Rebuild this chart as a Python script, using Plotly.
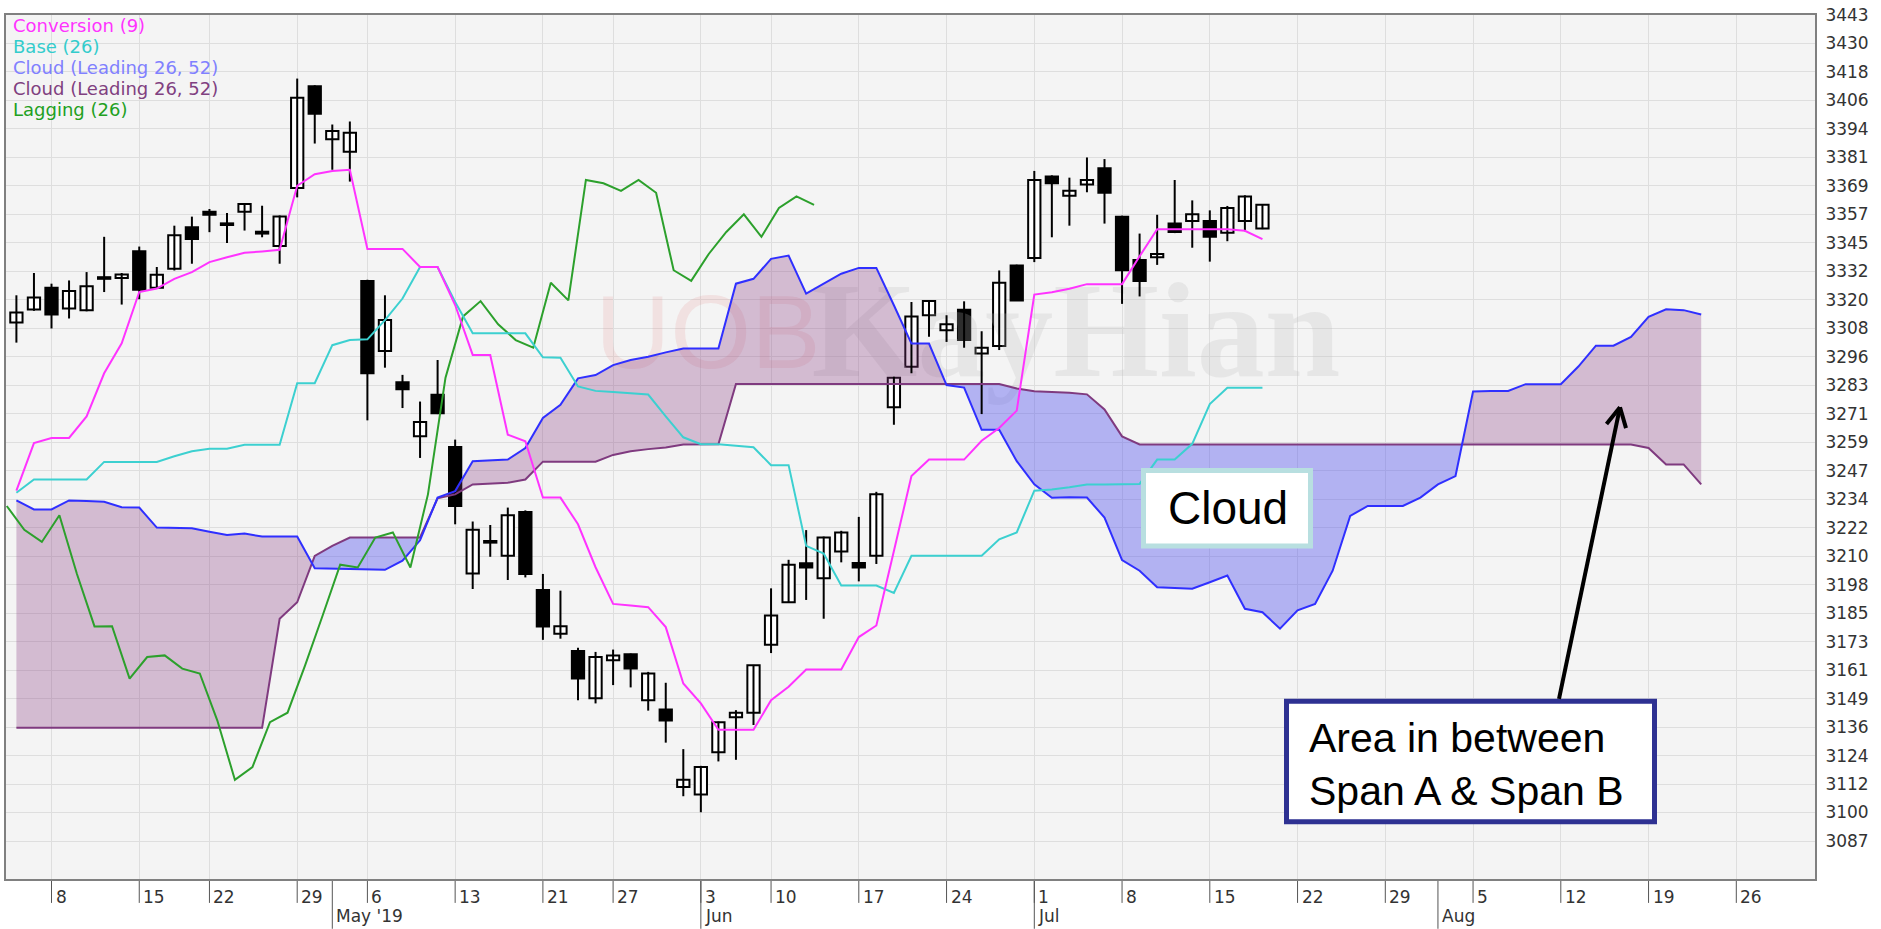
import plotly.graph_objects as go

# ---------------- data ----------------
# trading-day index 0 = 4 Apr 2019
opens = [3310.5, 3316.1, 3325.5, 3316.5, 3315.8, 3329.9, 3329.6, 3341.2, 3325.5, 3333.6,
         3351.5, 3358.2, 3353.1, 3358.2, 3349.6, 3343.4, 3368.4, 3412.3, 3389.4, 3384.1,
         3328.4, 3298.2, 3284.7, 3261.4, 3279.3, 3256.8, 3202.3, 3215.6, 3209.9, 3228.8,
         3195.2, 3176.3, 3168.9, 3148.5, 3164.9, 3167.5, 3147.7, 3143.7, 3110.3, 3107.0,
         3125.3, 3140.3, 3142.3, 3171.6, 3189.9, 3206.7, 3200.2, 3211.8, 3206.8, 3209.9,
         3273.9, 3291.4, 3313.6, 3307.1, 3316.0, 3297.1, 3300.3, 3335.0, 3338.3, 3373.4,
         3365.1, 3369.9, 3376.9, 3356.0, 3337.4, 3338.6, 3353.1, 3354.2, 3354.2, 3349.1,
         3354.2, 3351.0]
highs = [3322.2, 3331.8, 3327.2, 3328.6, 3332.2, 3347.4, 3331.8, 3343.2, 3334.4, 3352.2,
         3356.1, 3359.4, 3357.7, 3361.5, 3360.8, 3356.6, 3415.6, 3412.7, 3395.8, 3397.1,
         3328.9, 3322.2, 3287.9, 3276.4, 3294.3, 3260.0, 3224.7, 3223.2, 3230.7, 3229.5,
         3202.1, 3194.9, 3170.3, 3168.5, 3169.5, 3167.8, 3159.9, 3155.2, 3126.6, 3119.4,
         3138.5, 3143.4, 3162.9, 3195.9, 3208.2, 3221.0, 3218.2, 3220.7, 3226.7, 3237.5,
         3287.1, 3319.3, 3320.1, 3313.6, 3319.6, 3306.7, 3332.9, 3335.4, 3375.8, 3373.9,
         3372.9, 3381.6, 3380.9, 3356.5, 3348.8, 3356.9, 3371.9, 3363.1, 3358.8, 3360.7,
         3365.3, 3361.5]
lows = [3301.8, 3315.5, 3307.9, 3312.2, 3315.3, 3323.6, 3318.2, 3320.5, 3325.1, 3332.9,
        3335.8, 3349.4, 3344.7, 3350.1, 3347.2, 3335.8, 3364.4, 3387.6, 3376.3, 3371.2,
        3268.3, 3291.0, 3273.6, 3252.1, 3271.0, 3223.5, 3195.6, 3209.5, 3199.5, 3200.6,
        3173.7, 3174.2, 3147.7, 3146.3, 3154.2, 3153.2, 3143.2, 3129.4, 3106.3, 3099.4,
        3121.3, 3122.0, 3137.0, 3168.0, 3189.6, 3190.9, 3182.8, 3207.1, 3198.9, 3206.4,
        3266.4, 3288.6, 3304.3, 3302.1, 3299.6, 3271.0, 3298.6, 3320.0, 3336.5, 3347.2,
        3352.2, 3366.6, 3353.1, 3318.5, 3321.7, 3335.3, 3349.0, 3342.7, 3336.7, 3345.5,
        3349.8, 3350.7]
closes = [3314.8, 3321.2, 3313.9, 3324.1, 3326.1, 3329.3, 3331.2, 3324.6, 3331.1, 3348.1,
          3346.5, 3356.9, 3352.5, 3361.5, 3348.8, 3356.2, 3407.3, 3400.4, 3393.0, 3392.3,
          3288.6, 3311.5, 3281.7, 3267.6, 3271.4, 3231.4, 3221.1, 3216.2, 3227.4, 3202.1,
          3179.5, 3179.6, 3157.0, 3166.3, 3167.0, 3161.3, 3159.2, 3138.9, 3113.4, 3118.9,
          3138.2, 3142.3, 3162.7, 3184.2, 3206.1, 3204.9, 3217.8, 3220.0, 3204.9, 3236.4,
          3286.7, 3313.1, 3319.7, 3309.7, 3302.9, 3299.6, 3327.6, 3320.0, 3371.9, 3370.5,
          3367.2, 3371.9, 3366.4, 3333.0, 3328.4, 3340.0, 3349.5, 3357.1, 3347.4, 3359.8,
          3364.8, 3361.2]

conversion = [3238.0, 3258.5, 3260.7, 3260.7, 3270.0, 3288.6, 3301.5, 3323.6, 3325.1, 3329.3,
              3332.2, 3336.5, 3338.6, 3340.5, 3341.1, 3341.8, 3369.4, 3374.4, 3375.8, 3376.3,
              3342.2, 3342.2, 3342.2, 3334.4, 3334.4, 3318.0, 3296.5, 3296.5, 3262.1, 3259.3,
              3235.0, 3235.0, 3223.5, 3205.0, 3189.2, 3188.5, 3187.8, 3179.2, 3154.9, 3146.3,
              3134.9, 3134.9, 3134.9, 3147.7, 3153.5, 3160.9, 3160.9, 3160.9, 3174.9, 3179.9,
              3212.0, 3244.3, 3251.4, 3251.4, 3251.4, 3259.5, 3265.0, 3272.5, 3322.5, 3323.5,
              3325.0, 3327.0, 3327.0, 3327.0, 3339.0, 3350.7, 3350.7, 3350.7, 3350.7, 3350.7,
              3350.0, 3346.4]
base_line = [3237.1, 3242.8, 3242.8, 3242.8, 3242.8, 3250.4, 3250.4, 3250.4, 3250.4, 3252.8,
             3255.0, 3256.1, 3256.1, 3257.8, 3257.8, 3257.8, 3284.3, 3284.3, 3300.7, 3302.9,
             3303.2, 3311.5, 3320.8, 3334.4, 3334.4, 3319.3, 3305.8, 3305.8, 3305.8, 3305.8,
             3295.5, 3295.3, 3282.9, 3281.0, 3280.5, 3280.0, 3279.4, 3270.0, 3261.0, 3258.0,
             3258.0, 3257.4, 3256.7, 3249.0, 3249.0, 3214.2, 3210.9, 3197.1, 3197.1, 3197.1,
             3193.9, 3209.9, 3209.9, 3209.9, 3209.9, 3209.9, 3217.0, 3220.0, 3238.0, 3238.5,
             3239.5, 3240.7, 3240.7, 3240.7, 3240.9, 3251.4, 3251.4, 3258.2, 3275.3, 3282.3,
             3282.3, 3282.3]
span_a = [3233.8, 3229.9, 3229.9, 3233.8, 3233.5, 3233.2, 3230.9, 3230.7, 3222.1, 3222.0,
          3221.8, 3220.3, 3218.9, 3219.5, 3218.2, 3218.2, 3218.2, 3204.6, 3204.4, 3204.3,
          3204.1, 3203.9, 3207.8, 3216.6, 3235.0, 3237.8, 3250.7, 3251.0, 3251.4, 3256.4,
          3269.3, 3275.0, 3286.4, 3287.8, 3292.1, 3294.3, 3295.7, 3297.6, 3299.3, 3299.3,
          3299.3, 3327.2, 3329.3, 3337.9, 3339.3, 3322.9, 3327.2, 3331.5, 3334.0, 3334.0,
          3317.9, 3301.4, 3301.4, 3283.5, 3282.4, 3264.2, 3264.2, 3250.7, 3240.7, 3234.9,
          3235.2, 3235.0, 3226.4, 3208.1, 3203.5, 3196.4, 3196.0, 3195.7, 3198.5, 3201.4,
          3187.1, 3185.6, 3178.5, 3186.4, 3189.2, 3203.5, 3227.1, 3231.4, 3231.4, 3231.4,
          3235.0, 3240.7, 3244.3, 3280.7, 3280.9, 3281.0, 3283.9, 3283.9, 3283.9, 3291.5,
          3300.5, 3300.5, 3304.3, 3312.9, 3316.2, 3315.8, 3313.9]
span_b = [3135.8, 3135.8, 3135.8, 3135.8, 3135.8, 3135.8, 3135.8, 3135.8, 3135.8, 3135.8,
          3135.8, 3135.8, 3135.8, 3135.8, 3135.8, 3182.8, 3189.9, 3209.9, 3214.2, 3217.8,
          3217.8, 3217.8, 3217.8, 3217.8, 3234.7, 3236.4, 3240.7, 3241.0, 3241.4, 3242.8,
          3250.5, 3250.5, 3250.5, 3250.5, 3253.4, 3255.0, 3255.9, 3256.6, 3257.9, 3257.9,
          3258.0, 3284.0, 3284.0, 3284.0, 3284.0, 3284.0, 3284.0, 3284.0, 3284.0, 3284.0,
          3284.0, 3284.0, 3284.0, 3284.0, 3284.0, 3284.0, 3284.0, 3282.0, 3280.8, 3280.5,
          3280.2, 3279.5, 3273.0, 3261.4, 3257.9, 3257.9, 3257.9, 3257.9, 3257.9, 3257.9,
          3257.9, 3257.9, 3257.9, 3257.9, 3257.9, 3257.9, 3257.9, 3257.9, 3257.9, 3257.9,
          3257.9, 3257.9, 3257.9, 3257.9, 3257.9, 3257.9, 3257.9, 3257.9, 3257.9, 3257.9,
          3257.9, 3257.9, 3257.9, 3256.4, 3249.3, 3249.3, 3240.7]
# lagging line, first point plotted at index -1
lagging = [3231.4, 3221.1, 3215.9, 3227.4, 3202.1, 3179.5, 3179.6, 3157.0, 3166.3, 3167.0,
           3161.3, 3159.2, 3138.9, 3113.4, 3118.9, 3138.2, 3142.3, 3162.7, 3184.2, 3206.1,
           3204.9, 3217.8, 3220.0, 3204.9, 3236.4, 3286.7, 3313.1, 3319.7, 3309.7, 3302.9,
           3299.6, 3327.6, 3320.0, 3371.9, 3370.5, 3367.2, 3371.9, 3366.4, 3333.0, 3328.4,
           3340.0, 3349.5, 3357.1, 3347.4, 3359.8, 3364.8, 3361.2]
LAG_FIRST = -1
LAG_SHIFT = 0.45

week_ticks = [2, 7, 11, 16, 20, 25, 30, 34, 39, 43, 48, 53, 58, 63, 68, 73, 78, 83, 88, 93, 98]
week_labels = ["8", "15", "22", "29", "6", "13", "21", "27", "3", "10", "17", "24",
               "1", "8", "15", "22", "29", "5", "12", "19", "26"]
month_ticks = [18, 39, 58, 81]
month_labels = ["May '19", "Jun", "Jul", "Aug"]
y_labels = ["3087", "3100", "3112", "3124", "3136", "3149", "3161", "3173", "3185", "3198",
            "3210", "3222", "3234", "3247", "3259", "3271", "3283", "3296", "3308", "3320",
            "3332", "3345", "3357", "3369", "3381", "3394", "3406", "3418", "3430", "3443"]
Y_LO, Y_HI = 3087.0, 3443.0

legend_items = [("Conversion (9)", "#ff33ff"), ("Base (26)", "#33cccc"),
                ("Cloud (Leading 26, 52)", "#8080ff"), ("Cloud (Leading 26, 52)", "#804080"),
                ("Lagging (26)", "#22a022")]

# ---------------- layout geometry ----------------
W, H = 1881, 929
ML, MR, MT, MB = 5, 65, 10, 49
PW, PH = W - ML - MR, H - MT - MB


def pxx(px):
    return (px - ML) / PW


def pxy(py):
    return (H - MB - py) / PH


n = len(closes)
xi = list(range(n))
fig = go.Figure()

# watermark
fig.add_trace(go.Scatter(x=[39.4], y=[3302], mode="text", text=["UOB"],
                         textfont=dict(family="Liberation Sans", size=104, color="rgba(225,140,140,0.18)"),
                         hoverinfo="skip"))
fig.add_trace(go.Scatter(x=[45.3], y=[3302], mode="text", text=["<b>KayHian</b>"], textposition="middle right",
                         textfont=dict(family="Liberation Serif", size=136, color="rgba(190,190,190,0.24)"),
                         hoverinfo="skip"))

# cloud fill (split at the crossings of span A and span B)
cx, ca, cb = [], [], []
for k in range(len(span_a)):
    cx.append(k); ca.append(span_a[k]); cb.append(span_b[k])
    if k < len(span_a) - 1:
        d0 = span_a[k] - span_b[k]
        d1 = span_a[k + 1] - span_b[k + 1]
        if d0 * d1 < 0:
            t = d0 / (d0 - d1)
            yc = span_a[k] + t * (span_a[k + 1] - span_a[k])
            cx.append(k + t); ca.append(yc); cb.append(yc)
upper = [max(p, q) for p, q in zip(ca, cb)]
lower = [min(p, q) for p, q in zip(ca, cb)]
fig.add_trace(go.Scatter(x=cx + cx[::-1], y=upper + cb[::-1], fill="toself", mode="lines",
                         line=dict(width=0), fillcolor="rgba(135,55,130,0.30)", hoverinfo="skip"))
fig.add_trace(go.Scatter(x=cx + cx[::-1], y=cb + lower[::-1], fill="toself", mode="lines",
                         line=dict(width=0), fillcolor="rgba(80,80,240,0.40)", hoverinfo="skip"))

# candles: wicks + bodies
wx, wy = [], []
for i in xi:
    wx += [i, i, None]
    wy += [lows[i], highs[i], None]
fig.add_trace(go.Scatter(x=wx, y=wy, mode="lines", line=dict(color="black", width=2),
                         connectgaps=False, hoverinfo="skip"))
body_base = [min(o, c) for o, c in zip(opens, closes)]
body_h = [max(abs(c - o), 0.7) for o, c in zip(opens, closes)]
body_col = ["white" if c >= o else "black" for o, c in zip(opens, closes)]
fig.add_trace(go.Bar(x=xi, y=body_h, base=body_base, width=0.70,
                     marker=dict(color=body_col, line=dict(color="black", width=2)), hoverinfo="skip"))

# indicator lines
fig.add_trace(go.Scatter(x=list(range(len(span_b))), y=span_b, mode="lines",
                         line=dict(color="#7f3a7f", width=2), hoverinfo="skip"))
fig.add_trace(go.Scatter(x=list(range(len(span_a))), y=span_a, mode="lines",
                         line=dict(color="#2f2fff", width=2), hoverinfo="skip"))
lag_x = [LAG_FIRST + k + LAG_SHIFT for k in range(len(lagging))]
fig.add_trace(go.Scatter(x=lag_x, y=lagging, mode="lines",
                         line=dict(color="#2ca02c", width=2), hoverinfo="skip"))
fig.add_trace(go.Scatter(x=xi, y=base_line, mode="lines",
                         line=dict(color="#3cd0d0", width=2), hoverinfo="skip"))
fig.add_trace(go.Scatter(x=xi, y=conversion, mode="lines",
                         line=dict(color="#ff33ff", width=2), hoverinfo="skip"))

# ---------------- axes ----------------
x_lo = (ML - 16.4) / 17.55
x_hi = (W - MR - 16.4) / 17.55
step = (Y_HI - Y_LO) / (len(y_labels) - 1)
y_vals = [Y_LO + k * step for k in range(len(y_labels))]
y_bottom = Y_HI - (H - MB - 11.0) / 2.331
y_top = Y_HI + (11.0 - MT) / 2.331

AXFONT = dict(family="DejaVu Sans", size=17, color="#333333")
shapes = []
annotations = []
for t, lbl in zip(week_ticks, week_labels):
    shapes.append(dict(type="line", xref="x", yref="paper", x0=t, x1=t, y0=0, y1=-23 / PH,
                       line=dict(color="#555555", width=1)))
    annotations.append(dict(x=t, y=0, xref="x", yref="paper", text=lbl, showarrow=False,
                            xanchor="left", yanchor="middle", xshift=2, yshift=-17, font=AXFONT))
for t, lbl in zip(month_ticks, month_labels):
    shapes.append(dict(type="line", xref="x", yref="paper", x0=t, x1=t, y0=0, y1=-MB / PH,
                       line=dict(color="#555555", width=1)))
    annotations.append(dict(x=t, y=0, xref="x", yref="paper", text=lbl, showarrow=False,
                            xanchor="left", yanchor="middle", xshift=2, yshift=-36, font=AXFONT))

# legend texts
for k, (txt, col) in enumerate(legend_items):
    annotations.append(dict(x=pxx(11), y=pxy(21.7 + k * 21), xref="paper", yref="paper", text=txt,
                            showarrow=False, xanchor="left", yanchor="middle",
                            font=dict(family="DejaVu Sans", size=18, color=col)))

# "Cloud" callout
shapes.append(dict(type="rect", xref="paper", yref="paper", x0=pxx(1143.5), x1=pxx(1310.5),
                   y0=pxy(544.5), y1=pxy(468.5), fillcolor="white",
                   line=dict(color="#b8dfe0", width=5), layer="above"))
annotations.append(dict(x=pxx(1228), y=pxy(506), xref="paper", yref="paper", text="Cloud",
                        showarrow=False, xanchor="center", yanchor="middle",
                        font=dict(family="Liberation Sans", size=46, color="black")))

# "Area in between" callout with arrow
shapes.append(dict(type="rect", xref="paper", yref="paper", x0=pxx(1286.5), x1=pxx(1654.5),
                   y0=pxy(821.5), y1=pxy(700.5), fillcolor="white",
                   line=dict(color="#2e3192", width=5), layer="above"))
annotations.append(dict(x=pxx(1307), y=pxy(764), xref="paper", yref="paper",
                        text="Area in between<br>Span A & Span B", align="left",
                        showarrow=False, xanchor="left", yanchor="middle",
                        font=dict(family="Liberation Sans", size=41, color="black")))
tip = (1620, 405)
tail = (1559, 698)
shapes.append(dict(type="line", xref="paper", yref="paper", x0=pxx(tail[0]), y0=pxy(tail[1]),
                   x1=pxx(tip[0]), y1=pxy(tip[1]), line=dict(color="black", width=4), layer="above"))
for end in [(1606.5, 422), (1626, 426)]:
    shapes.append(dict(type="line", xref="paper", yref="paper", x0=pxx(end[0]), y0=pxy(end[1]),
                       x1=pxx(tip[0]), y1=pxy(tip[1]), line=dict(color="black", width=4),
                       layer="above"))

# plot frame
shapes.append(dict(type="rect", xref="paper", yref="paper", x0=0, x1=1, y0=0, y1=1,
                   line=dict(color="#808080", width=2), layer="above"))

fig.update_layout(
    width=W, height=H, autosize=False,
    margin=dict(l=ML, r=MR, t=MT, b=MB, pad=0),
    paper_bgcolor="white", plot_bgcolor="#f4f4f4",
    showlegend=False, barmode="overlay",
    xaxis=dict(range=[x_lo, x_hi], tickvals=week_ticks, showticklabels=False, ticks="",
               showgrid=True, gridcolor="#dedede", gridwidth=1, zeroline=False, showline=False,
               fixedrange=True),
    yaxis=dict(range=[y_bottom, y_top], side="right", tickvals=y_vals, ticktext=y_labels,
               showgrid=True, gridcolor="#dedede", gridwidth=1, zeroline=False, showline=False,
               ticks="outside", ticklen=5, tickcolor="rgba(0,0,0,0)",
               tickfont=AXFONT, fixedrange=True),
    shapes=shapes, annotations=annotations,
)

fig.write_html("out.html", config={"displayModeBar": False},
               post_script="document.body.style.margin='0px';document.body.style.overflow='hidden';")
